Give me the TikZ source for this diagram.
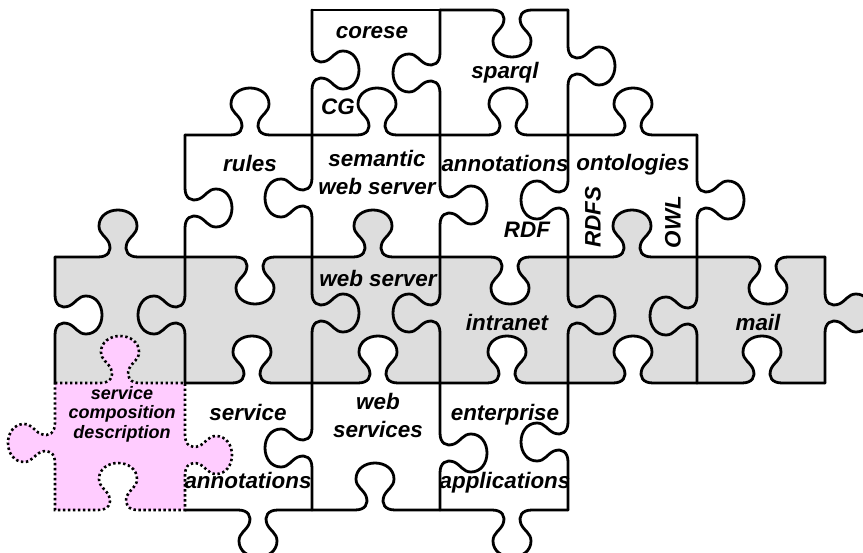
\documentclass[tikz,border=0pt]{standalone}
\usepackage{fontspec}
\setmainfont{Liberation Sans}
\definecolor{tilegray}{RGB}{221,221,221}
\definecolor{tilepink}{RGB}{255,204,255}

\makeatletter
% grid lines of the puzzle (in pt, y measured downwards)
\expandafter\def\csname jg@X0\endcsname{55}
\expandafter\def\csname jg@X1\endcsname{185}
\expandafter\def\csname jg@X2\endcsname{312}
\expandafter\def\csname jg@X3\endcsname{440}
\expandafter\def\csname jg@X4\endcsname{568}
\expandafter\def\csname jg@X5\endcsname{697}
\expandafter\def\csname jg@X6\endcsname{825}
\expandafter\def\csname jg@Y0\endcsname{10}
\expandafter\def\csname jg@Y1\endcsname{135}
\expandafter\def\csname jg@Y2\endcsname{257}
\expandafter\def\csname jg@Y3\endcsname{383}
\expandafter\def\csname jg@Y4\endcsname{510}

% edge data: {knob centre}{direction}; direction 0 = flat,
% horizontal: +1 bulges down, -1 up; vertical: +1 bulges right, -1 left
\newcommand\setH[4]{\expandafter\def\csname jg@H#1-#2\endcsname{{#3}{#4}}}
\newcommand\setV[4]{\expandafter\def\csname jg@V#1-#2\endcsname{{#3}{#4}}}

% one knob, local coordinates (along, across)
\def\jg@profile{%
  \pgfpathlineto{\jg@P{-20}{0}}%
  \pgfpathcurveto{\jg@P{-10}{0}}{\jg@P{-6}{6}}{\jg@P{-9}{14}}%
  \pgfpathcurveto{\jg@P{-12}{21}}{\jg@P{-19}{23}}{\jg@P{-19}{31}}%
  \pgfpathcurveto{\jg@P{-19}{41}}{\jg@P{-10}{47}}{\jg@P{0}{47}}%
  \pgfpathcurveto{\jg@P{10}{47}}{\jg@P{19}{41}}{\jg@P{19}{31}}%
  \pgfpathcurveto{\jg@P{19}{23}}{\jg@P{12}{21}}{\jg@P{9}{14}}%
  \pgfpathcurveto{\jg@P{6}{6}}{\jg@P{10}{0}}{\jg@P{20}{0}}}
\def\jg@Hpt#1#2{\pgfpoint{(\jg@c+(#1)*(\jg@u))*1pt}{-(\jg@b+(#2)*(\jg@d))*1pt}}
\def\jg@Vpt#1#2{\pgfpoint{(\jg@b+(#2)*(\jg@d))*1pt}{-(\jg@c+(#1)*(\jg@u))*1pt}}

\newcommand\jg@hedge[5]{% y, from x, to x, centre, direction
  \def\jg@b{#1}\def\jg@c{#4}\def\jg@d{#5}%
  \ifdim#3pt>#2pt\def\jg@u{1}\else\def\jg@u{-1}\fi
  \let\jg@P\jg@Hpt
  \ifnum#5=0 \else\jg@profile\fi
  \pgfpathlineto{\pgfqpoint{#3pt}{-#1pt}}}
\newcommand\jg@vedge[5]{% x, from y, to y, centre, direction
  \def\jg@b{#1}\def\jg@c{#4}\def\jg@d{#5}%
  \ifdim#3pt>#2pt\def\jg@u{1}\else\def\jg@u{-1}\fi
  \let\jg@P\jg@Vpt
  \ifnum#5=0 \else\jg@profile\fi
  \pgfpathlineto{\pgfqpoint{#1pt}{-#3pt}}}

% run along horizontal line #1, segment #2; #3 = 0 left-to-right, 1 reverse
\newcommand\runH[3]{%
  \ifnum#3=0
    \edef\jg@tmp{\noexpand\jg@hedge{\csname jg@Y#1\endcsname}{\csname jg@X#2\endcsname}{\csname jg@X\the\numexpr#2+1\relax\endcsname}\csname jg@H#1-#2\endcsname}%
  \else
    \edef\jg@tmp{\noexpand\jg@hedge{\csname jg@Y#1\endcsname}{\csname jg@X\the\numexpr#2+1\relax\endcsname}{\csname jg@X#2\endcsname}\csname jg@H#1-#2\endcsname}%
  \fi\jg@tmp}
% run along vertical line #2, segment #1; #3 = 0 downwards, 1 upwards
\newcommand\runV[3]{%
  \ifnum#3=0
    \edef\jg@tmp{\noexpand\jg@vedge{\csname jg@X#2\endcsname}{\csname jg@Y#1\endcsname}{\csname jg@Y\the\numexpr#1+1\relax\endcsname}\csname jg@V#1-#2\endcsname}%
  \else
    \edef\jg@tmp{\noexpand\jg@vedge{\csname jg@X#2\endcsname}{\csname jg@Y\the\numexpr#1+1\relax\endcsname}{\csname jg@Y#1\endcsname}\csname jg@V#1-#2\endcsname}%
  \fi\jg@tmp}

% closed outline of the piece in column #1, row #2
\newcommand\piecepath[2]{%
  \edef\jg@x{\csname jg@X#1\endcsname}\edef\jg@y{\csname jg@Y#2\endcsname}%
  \pgfpathmoveto{\pgfqpoint{\jg@x pt}{-\jg@y pt}}%
  \runH{#2}{#1}{0}%
  \runV{#2}{\the\numexpr#1+1\relax}{0}%
  \runH{\the\numexpr#2+1\relax}{#1}{1}%
  \runV{#2}{#1}{1}%
  \pgfpathclose}
\newcommand\fillpiece[3]{%
  \begin{pgfscope}\pgfsetfillcolor{#1}\piecepath{#2}{#3}\pgfusepath{fill}\end{pgfscope}}
\newcommand\strokeH[2]{%
  \edef\jg@x{\csname jg@X#2\endcsname}\edef\jg@y{\csname jg@Y#1\endcsname}%
  \pgfpathmoveto{\pgfqpoint{\jg@x pt}{-\jg@y pt}}\runH{#1}{#2}{0}\pgfusepath{stroke}}
\newcommand\strokeV[2]{%
  \edef\jg@x{\csname jg@X#2\endcsname}\edef\jg@y{\csname jg@Y#1\endcsname}%
  \pgfpathmoveto{\pgfqpoint{\jg@x pt}{-\jg@y pt}}\runV{#1}{#2}{0}\pgfusepath{stroke}}
\makeatother

% horizontal edges: line, segment, centre x, direction
\setH{0}{2}{376}{0}
\setH{0}{3}{512}{1}
\setH{1}{1}{250}{-1}
\setH{1}{2}{377}{-1}
\setH{1}{3}{508}{-1}
\setH{1}{4}{633}{-1}
\setH{2}{0}{118}{-1}
\setH{2}{1}{255}{1}
\setH{2}{2}{373}{-1}
\setH{2}{3}{510}{1}
\setH{2}{4}{632}{-1}
\setH{2}{5}{768}{1}
\setH{3}{0}{120}{-1}
\setH{3}{1}{252}{-1}
\setH{3}{2}{378}{-1}
\setH{3}{3}{507}{-1}
\setH{3}{4}{633}{-1}
\setH{3}{5}{762}{-1}
\setH{4}{0}{118}{-1}
\setH{4}{1}{258}{1}
\setH{4}{2}{375}{-1}
\setH{4}{3}{512}{1}
% vertical edges: segment, line, centre y, direction
\setV{0}{2}{70}{1}
\setV{0}{3}{73}{-1}
\setV{0}{4}{66}{1}
\setV{1}{1}{208}{1}
\setV{1}{2}{198}{-1}
\setV{1}{3}{205}{1}
\setV{1}{4}{200}{-1}
\setV{1}{5}{200}{1}
\setV{2}{0}{315}{1}
\setV{2}{1}{315}{-1}
\setV{2}{2}{313}{1}
\setV{2}{3}{313}{-1}
\setV{2}{4}{315}{1}
\setV{2}{5}{316}{-1}
\setV{2}{6}{313}{1}
\setV{3}{0}{443}{-1}
\setV{3}{1}{455}{1}
\setV{3}{2}{448}{-1}
\setV{3}{3}{453}{1}
\setV{3}{4}{442}{-1}

\begin{document}
\begin{tikzpicture}[x=1pt,y=-1pt,
  lbl/.style={font=\fontsize{22.4}{28}\selectfont\bfseries\itshape,
    inner sep=0pt, align=center},
  smalllbl/.style={font=\fontsize{18}{19.5}\selectfont\bfseries\itshape,
    inner sep=0pt, align=center}]
\useasboundingbox (0,0) rectangle (863,553);

% tile fills
\fillpiece{white}{2}{0}
\fillpiece{white}{3}{0}
\fillpiece{white}{1}{1}
\fillpiece{white}{2}{1}
\fillpiece{white}{3}{1}
\fillpiece{white}{4}{1}
\fillpiece{tilegray}{0}{2}
\fillpiece{tilegray}{1}{2}
\fillpiece{tilegray}{2}{2}
\fillpiece{tilegray}{3}{2}
\fillpiece{tilegray}{4}{2}
\fillpiece{tilegray}{5}{2}
\fillpiece{tilepink}{0}{3}
\fillpiece{white}{1}{3}
\fillpiece{white}{2}{3}
\fillpiece{white}{3}{3}

% solid tile borders
\begin{pgfscope}
\pgfsetlinewidth{2.8pt}\pgfsetroundcap\pgfsetroundjoin
\foreach \r/\s in {0/2,0/3,1/1,1/2,1/3,1/4,2/0,2/1,2/2,2/3,2/4,2/5,3/1,3/2,3/3,3/4,3/5,4/1,4/2,4/3}
  {\strokeH{\r}{\s}}
\foreach \r/\s in {0/2,0/3,0/4,1/1,1/2,1/3,1/4,1/5,2/0,2/1,2/2,2/3,2/4,2/5,2/6,3/2,3/3,3/4}
  {\strokeV{\r}{\s}}
\end{pgfscope}

% dotted border of the new tile
\begin{pgfscope}
\pgfsetlinewidth{2.6pt}\pgfsetbuttcap
\pgfsetdash{{2.4pt}{2.6pt}}{0pt}
\piecepath{0}{3}\pgfusepath{stroke}
\end{pgfscope}

% labels
\node[lbl] (corese) at (372,33) {corese};
\node[lbl] (cg) at (338,107) {CG};
\node[lbl] (sparql) at (505,73) {sparql};
\node[lbl] (rules) at (250,163) {rules};
\node[lbl] (semweb) at (377,172) {semantic\\web server};
\node[lbl] (annot) at (505,163) {annotations};
\node[lbl] (rdf) at (527,230) {RDF};
\node[lbl] (onto) at (633,165) {ontologies};
\node[lbl,rotate=90] (rdfs) at (593,217) {RDFS};
\node[lbl,rotate=90] (owl) at (673,222) {OWL};
\node[lbl] (websrv) at (378,278) {web server};
\node[lbl] (intranet) at (507,322) {intranet};
\node[lbl] (mail) at (758,322) {mail};
\node[smalllbl] (scd) at (122,414) {service\\composition\\description};
\node[lbl] (service) at (248,412) {service};
\node[lbl] (sannot) at (248,480) {annotations};
\node[lbl] (websvc) at (378,415) {web\\services};
\node[lbl] (enterp) at (505,415) {enterprise};
\node[lbl] (apps) at (505,483) {applications};
\end{tikzpicture}
\end{document}
